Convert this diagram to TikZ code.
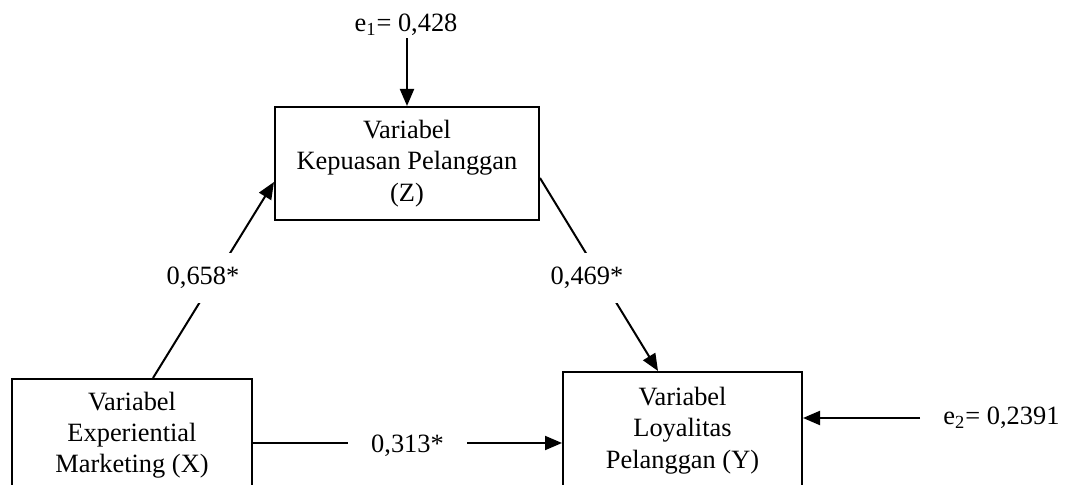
\documentclass[tikz,border=0pt]{standalone}
\usepackage{fontspec}
\setmainfont{Liberation Serif}
\usetikzlibrary{arrows.meta}
\begin{document}
\begin{tikzpicture}[x=0.5pt,y=-0.5pt,
 every node/.style={font=\fontsize{13.2}{15.6}\selectfont},
 box/.style={draw, line width=1pt, align=center, inner sep=0pt},
 arr/.style={line width=1pt, -{Triangle[length=8.5pt,width=7pt]}},
 lab/.style={fill=white, inner xsep=2pt, inner ysep=7pt},
 hlab/.style={fill=white, inner xsep=11.5pt, inner ysep=2pt},
 elab/.style={inner sep=1pt},
 ]
\clip (0,0) rectangle (1065,485);
\node[box, minimum width=132pt, minimum height=56.5pt] (Z) at (407,163.5) {Variabel\\Kepuasan Pelanggan\\(Z)};
\node[box, minimum width=120pt, minimum height=56pt] (X) at (132,435) {Variabel\\Experiential\\Marketing (X)};
\node[box, minimum width=119.5pt, minimum height=58.5pt] (Y) at (682.5,430.5) {Variabel\\Loyalitas\\Pelanggan (Y)};
\node[elab] (e1) at (406,25) {e\textsubscript{1}= 0,428};
\node[elab] (e2) at (1001.5,418) {e\textsubscript{2}= 0,2391};
\coordinate (m) at (400,443);
% connectors
\draw[arr] (e1.south -| Z.north) -- (Z.north);
\draw[arr] ([xshift=-10.5pt]e2.west) -- (e2.west -| Y.east);
\draw[arr] ([xshift=10.5pt]X.north) -- ([yshift=-9.25pt]Z.west);
\draw[arr] ([yshift=-7.25pt]Z.east) -- ([xshift=-12.25pt]Y.north);
\draw[arr] (X.east |- m) -- (Y.west |- m);
% path labels
\node[lab] (l1) at (203,278) {0,658*};
\node[lab] (l2) at (587,278) {0,469*};
\node[hlab] (l3) at (407.5,446) {0,313*};
\end{tikzpicture}
\end{document}
